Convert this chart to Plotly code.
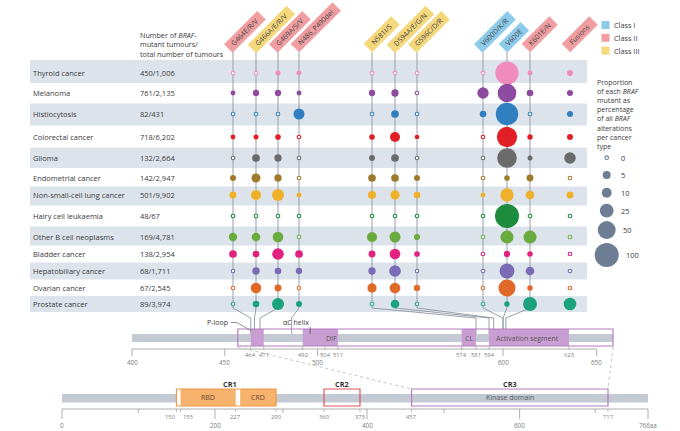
import numpy as np
import plotly.graph_objects as go

# ---------------- data ----------------
cancers = ["Thyroid cancer", "Melanoma", "Histiocytosis", "Colorectal cancer", "Glioma",
           "Endometrial cancer", "Non-small-cell lung cancer", "Hairy cell leukaemia",
           "Other B cell neoplasms", "Bladder cancer", "Hepatobiliary cancer",
           "Ovarian cancer", "Prostate cancer"]
tumour_counts = ["450/1,006", "761/2,135", "82/431", "718/6,202", "132/2,664", "142/2,947",
                 "501/9,902", "48/67", "169/4,781", "138/2,954", "68/1,711", "67/2,545",
                 "89/3,974"]
mutations = ["G464E/R/V", "G466A/E/R/V", "G469A/S/V", "N486_P490del", "N581I/S",
             "D594A/E/G/N", "G596C/D/R", "V600D/K/R", "V600E", "K601E/N", "Fusions"]
mutation_class = ["II", "III", "II", "II", "III", "III", "III", "I", "I", "II", "II"]
mutation_residue = [464, 466, 469, 486, 581, 594, 596, 600, 600, 601, None]

# proportion (%) of each BRAF mutant among all BRAF alterations per cancer type
thyroid       = [0,   0,    0.6,  0.5,  0,    0,    0,   0,   92,  0.5, 1.6]
melanoma      = [0.5, 2,    2,    0.5,  2,    3.6,  0,   15,  55,  2.5, 1.6]
histiocytosis = [0,   0,    0,    13.6, 0,    4.3,  0,   2.5, 85,  0,   1.6]
colorectal    = [0.5, 0.6,  1.2,  0,    1.2,  10.3, 0.4, 0,   67,  0.9, 1.6]
glioma        = [0,   4.3,  3.6,  0,    1.6,  4.3,  0,   0,   62,  0.6, 16]
endometrial   = [1.6, 7.4,  3.6,  0,    4.3,  4.3,  1.6, 0,   1.2, 3,   0]
nsclc         = [3,   11,   17.4, 0.5,  5,    8.2,  2.5, 0.5, 23,  6.6, 3]
hairy_cell    = [0,   0,    0,    0,    0,    0,    0,   0,   100, 0,   0]
other_b_cell  = [5.7, 6.6,  12.5, 0,    11,   13.6, 1.6, 0,   22,  22,  0]
bladder       = [4.3, 2.5,  16,   4.3,  3,    12.5, 1.2, 0,   2,   1,   0]
hepatobiliary = [0,   3.6,  2.5,  2,    3.6,  16,   0,   0,   32,  6.6, 0]
ovarian       = [0,   12.5, 3,    0,    8.2,  12.5, 2,   0,   44,  1,   0]
prostate      = [0,   2.5,  17.4, 1.6,  0,    6.6,  0,   0,   1,   26,  20]
proportions = [thyroid, melanoma, histiocytosis, colorectal, glioma, endometrial, nsclc,
               hairy_cell, other_b_cell, bladder, hepatobiliary, ovarian, prostate]

size_legend_values = [0, 5, 10, 25, 50, 100]
class_names = ["Class I", "Class II", "Class III"]

# protein features (amino-acid residues)
top_view = (400, 717)
kinase_domain = (457, 717)
top_features = [("P-loop", 464, 471), ("αC helix", 492, 504), ("DIF", 504, 511),
                ("CL", 574, 581), ("Activation segment", 594, 623)]
top_major_ticks = [400, 450, 500, 600, 650]
top_feature_ticks = [464, 471, 492, 504, 511, 574, 581, 594, 623]
braf_length = 766
cr_regions = [("CR1", 150, 290), ("CR2", 360, 375), ("CR3", 457, 717)]
cr1_subdomains = [("RBD", 155, 227), ("CRD", 234, 290)]
bottom_major_ticks = [0, 200, 400, 600, 766]
bottom_minor_ticks = [100, 300, 500, 700]
bottom_feature_ticks = [150, 155, 227, 290, 360, 375, 457, 717]

# ---------------- layout / style constants ----------------
FONT = "Open Sans"
TXT = "#3a3a3a"
GREY_TXT = "#7d7d7d"
row_colors = ["#f08cbb", "#8e4a9e", "#2f7fc1", "#e21f26", "#6b6b6b", "#a07a2c", "#efb02a",
              "#1d8c3f", "#6aab3f", "#e2207f", "#7b6bb5", "#e0692a", "#1aa37a"]
class_colors = {"I": "#8dcbea", "II": "#f09ea2", "III": "#f5d77c"}
col_x = [233, 256, 278, 299, 372, 395, 417, 483, 507, 530, 570]
row_y = [73, 93, 114, 137, 158, 178, 195, 216, 237, 254, 271, 288, 304]
band_color = "#dde3eb"
bar_grey = "#c3cad4"
lilac = "#c99fd3"
purple_line = "#b57dbd"
orange_fill = "#f7b26e"
orange_line = "#ec9a46"
red_line = "#e2555a"

# schematic (piecewise) scales of the two protein diagrams, residue -> page x
TOP_AA = [400, 511, 574, 581, 594, 600, 623, 650, 717]
TOP_PX = [132, 338, 461.6, 476, 489, 503, 569, 596.7, 613]
BOT_AA = [0, 150, 155, 227, 290, 360, 375, 400, 457, 717, 766]
BOT_PX = [62, 176.5, 180.5, 235.7, 276, 324, 360, 367, 411.6, 608, 648]


def top_x(aa):
    return float(np.interp(aa, TOP_AA, TOP_PX))


def bot_x(aa):
    return float(np.interp(aa, BOT_AA, BOT_PX))


def bubble_d(v):
    return 3.4 + 2.06 * np.sqrt(v)


shapes = []
annotations = []


def rect(x0, x1, y0, y1, fill="rgba(0,0,0,0)", line=None, lw=0, layer="below"):
    shapes.append(dict(type="rect", xref="x", yref="y", x0=x0, x1=x1, y0=y0, y1=y1,
                       fillcolor=fill, line=dict(color=line or "rgba(0,0,0,0)", width=lw),
                       layer=layer))


def seg(pts, color, width=1, dash="solid", layer="below"):
    path = "M " + " L ".join(f"{x:.2f},{y:.2f}" for x, y in pts)
    shapes.append(dict(type="path", xref="x", yref="y", path=path,
                       line=dict(color=color, width=width, dash=dash), layer=layer))


def txt(x, y, s, size=7.5, color=TXT, xanchor="left", yanchor="middle", **kw):
    annotations.append(dict(x=x, y=y, xref="x", yref="y", text=s, showarrow=False,
                            xanchor=xanchor, yanchor=yanchor,
                            font=dict(family=FONT, size=size, color=color), **kw))


# ---------------- row bands ----------------
edges = [60] + [(row_y[i] + row_y[i + 1]) / 2 for i in range(len(row_y) - 1)] + [312]
for i in range(len(cancers)):
    if i % 2 == 0:
        rect(30, 587, edges[i], edges[i + 1], fill=band_color)

# ---------------- column lines & connectors ----------------
for j, aa in enumerate(mutation_residue):
    if aa is None:
        continue
    seg([(col_x[j], 52), (col_x[j], 308), (top_x(aa), 318), (top_x(aa), 334)],
        "#8d96a1", 0.9)

# ---------------- top protein diagram ----------------
rect(top_x(top_view[0]), top_x(top_view[1]), 334, 342, fill=bar_grey)
for name, a, b in top_features:
    rect(top_x(a), top_x(b), 329, 346, fill=lilac)
rect(top_x(kinase_domain[0]), top_x(kinase_domain[1]), 329, 346, line=purple_line, lw=1.2)
seg([(top_x(400), 349), (top_x(650), 349)], "#9a9a9a", 0.8)
for t in top_major_ticks:
    seg([(top_x(t), 349), (top_x(t), 356)], "#9a9a9a", 0.8)
    txt(top_x(t), 362, str(t), size=6.3, color=GREY_TXT, xanchor="center")
for t in top_feature_ticks:
    seg([(top_x(t), 346), (top_x(t), 350)], "#9a9a9a", 0.6)
    txt(top_x(t), 354.5, str(t), size=5.8, color=GREY_TXT, xanchor="center")

# feature labels
ploop = top_features[0]
txt(top_x(ploop[1]) - 21, 322.5, "P-loop", size=7, xanchor="right")
seg([(top_x(ploop[1]) - 20, 322.5), (top_x(ploop[1]) - 14, 322.5),
     (top_x(ploop[1]) + 1, 331)], "#777777", 0.8, layer="above")
ac = top_features[1]
txt(top_x(ac[1]) - 7, 322.5, "αC helix", size=7, xanchor="center")
seg([(top_x((ac[1] + ac[2]) / 2 - 2), 327), (top_x((ac[1] + ac[2]) / 2 - 2), 334)],
    "#555555", 0.8, layer="above")
for name, a, b in top_features[2:]:
    txt(top_x((a + b) / 2), 338, name, size=7, color="#555555", xanchor="center")

# zoom connectors
seg([(top_x(kinase_domain[0]), 347), (bot_x(kinase_domain[0]), 389)], "#bdbdbd", 0.9, "dot")
seg([(top_x(kinase_domain[1]), 347), (bot_x(kinase_domain[1]), 389)], "#bdbdbd", 0.9, "dot")

# ---------------- bottom (full-length) diagram ----------------
rect(bot_x(0), bot_x(braf_length), 394, 402.5, fill=bar_grey)
cr1 = cr_regions[0]
rect(bot_x(cr1[1]), bot_x(cr1[2]), 389, 406, fill="white")
for name, a, b in cr1_subdomains:
    rect(bot_x(a), bot_x(b), 389, 406, fill=orange_fill)
    txt(bot_x((a + b) / 2), 397.5, name, size=7, color="#6b4a2a", xanchor="center")
cr_line_colors = [orange_line, red_line, purple_line]
for (name, a, b), c in zip(cr_regions, cr_line_colors):
    rect(bot_x(a), bot_x(b), 389, 406, line=c, lw=1.2)
    txt(bot_x((a + b) / 2), 384, f"<b>{name}</b>", size=7.3, color="#333333",
        xanchor="center")
txt(bot_x(sum(cr_regions[2][1:]) / 2), 397.5, "Kinase domain", size=7, color="#555555",
    xanchor="center")
seg([(bot_x(0), 409), (bot_x(braf_length), 409)], "#9a9a9a", 0.8)
for t in bottom_major_ticks:
    seg([(bot_x(t), 409), (bot_x(t), 419)], "#9a9a9a", 0.8)
    lab = f"{t}aa" if t == braf_length else str(t)
    txt(bot_x(t), 425.5, lab, size=6.3, color=GREY_TXT, xanchor="center")
for t in bottom_minor_ticks:
    seg([(bot_x(t), 409), (bot_x(t), 413)], "#9a9a9a", 0.8)
for k, t in enumerate(bottom_feature_ticks):
    seg([(bot_x(t), 409), (bot_x(t), 412)], "#9a9a9a", 0.6)
    # the two crowded CR1 start labels are pushed apart
    anchor = "right" if k == 0 else ("left" if k == 1 else "center")
    txt(bot_x(t) + (1 if k == 0 else 0), 416.5, str(t), size=5.8, color=GREY_TXT,
        xanchor=anchor)

# ---------------- left text ----------------
for name, cnt, y in zip(cancers, tumour_counts, row_y):
    txt(31, y, name)
    txt(138, y, cnt)
txt(138, 44, "Number of <i>BRAF</i>-<br>mutant tumours/<br>total number of tumours",
    size=7.2, align="left")

# ---------------- rotated mutation labels ----------------
for j, m in enumerate(mutations):
    W = 4.0 * len(m) + 8
    Wo, Ho = W + 2, 11
    cx = col_x[j] + 0.7071 * (Wo / 2) - 0.7071 * (Ho / 2)
    cy = 52 - 0.7071 * (Wo / 2) - 0.7071 * (Ho / 2)
    annotations.append(dict(x=cx, y=cy, xref="x", yref="y", text=m, showarrow=False,
                            xanchor="center", yanchor="middle", textangle=-45,
                            width=W, height=9, borderpad=1,
                            bgcolor=class_colors[mutation_class[j]],
                            font=dict(family=FONT, size=7, color="#444444")))

# ---------------- class legend ----------------
for k, cname in enumerate(class_names):
    y = 25 + k * 12.8
    key = cname.split()[1]
    rect(601.5, 609.5, y - 4, y + 4, fill=class_colors[key], layer="above")
    txt(611.5, y, cname, size=7.3)

# ---------------- size legend ----------------
txt(594.5, 114, "Proportion<br>of each <i>BRAF</i><br>mutant as<br>percentage<br>"
    "of all <i>BRAF</i><br>alterations<br>per cancer<br>type", size=7, align="left")
leg_y = [157.7, 175, 192.7, 210.7, 230, 255]
leg_x = 606.7
leg_sizes = [3.6 if v == 0 else bubble_d(v) for v in size_legend_values]
navy = "#2f4665"

fig = go.Figure()

for i, vals in enumerate(proportions):
    sizes = [3.6 if v == 0 else bubble_d(v) for v in vals]
    fills = ["white" if v == 0 else row_colors[i] for v in vals]
    lws = [1.1 if v == 0 else 0 for v in vals]
    fig.add_trace(go.Scatter(
        x=col_x, y=[row_y[i]] * len(vals), mode="markers", hoverinfo="skip",
        marker=dict(size=sizes, color=fills, opacity=1,
                    line=dict(color=row_colors[i], width=lws))))

fig.add_trace(go.Scatter(
    x=[leg_x] * len(size_legend_values), y=leg_y, mode="markers", hoverinfo="skip",
    marker=dict(size=leg_sizes,
                color=["white" if v == 0 else navy for v in size_legend_values],
                line=dict(color=navy, width=[1.1 if v == 0 else 0 for v in size_legend_values]))))
for v, y, d in zip(size_legend_values, leg_y, leg_sizes):
    txt(leg_x + max(d, 14) / 2 + 5, y, str(v), size=7.5)

fig.update_layout(
    width=680, height=431, margin=dict(l=0, r=0, t=0, b=0),
    paper_bgcolor="white", plot_bgcolor="white", showlegend=False,
    xaxis=dict(range=[0, 680], visible=False, fixedrange=True),
    yaxis=dict(range=[431, 0], visible=False, fixedrange=True),
    shapes=shapes, annotations=annotations,
)

fig.write_html("out.html")
